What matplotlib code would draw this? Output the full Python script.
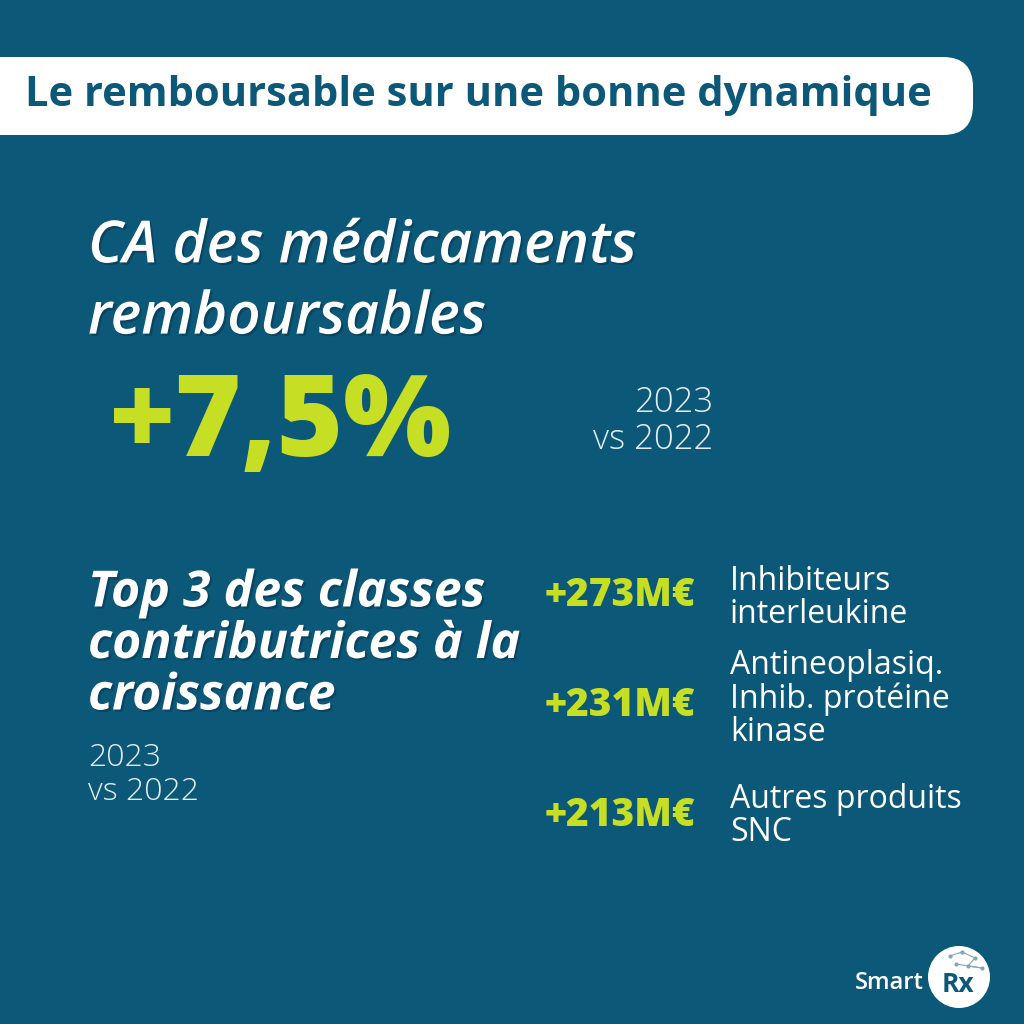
#!/usr/bin/env python
from matplotlib import pyplot as plt
from matplotlib.patches import FancyBboxPatch, Circle
import matplotlib.patheffects as pe

# --- contenu ---
titre = "Le remboursable sur une bonne dynamique"
titre_ca = "CA des médicaments\nremboursables"
evolution_ca = "+7,5%"
periode = "2023\nvs 2022"
titre_top = "Top 3 des classes\ncontributrices à la\ncroissance"
hausses_meur = [273, 231, 213]
classes = ["Inhibiteurs\ninterleukine",
           "Antineoplasiq.\nInhib. protéine\nkinase",
           "Autres produits\nSNC"]

BG = "#0c5878"
LIME = "#c6df24"
WHITE = "#ffffff"

plt.rcParams['font.family'] = ['Open Sans', 'DejaVu Sans']

fig = plt.figure(figsize=(10.24, 10.24), dpi=100, facecolor=BG)
ax = fig.add_axes([0, 0, 1, 1])
ax.set_xlim(0, 1024)
ax.set_ylim(1024, 0)
ax.axis('off')
ax.set_facecolor(BG)

# bandeau titre
ax.add_patch(FancyBboxPatch((-60, 57), 1033, 78, boxstyle="round,pad=0,rounding_size=30",
                            facecolor=WHITE, edgecolor='none'))
ax.text(25, 96, titre, color=BG, fontsize=30, fontweight='bold', va='center', ha='left')

ombre = [pe.withSimplePatchShadow(offset=(1.5, -1.5), shadow_rgbFace='#08324a', alpha=0.5)]

ax.text(88, 283, titre_ca, color=WHITE, fontsize=42, fontweight='semibold', fontstyle='italic',
        va='center', ha='left', linespacing=1.3, path_effects=ombre)
ax.text(110, 427, evolution_ca, color=LIME, fontsize=82, fontweight='heavy',
        va='center', ha='left')
ax.text(713, 421, periode, color='#e4edf2', fontsize=25, fontweight='light',
        va='center', ha='right', linespacing=1.1)

ax.text(88, 645, titre_top, color=WHITE, fontsize=36, fontweight='bold', fontstyle='italic',
        va='center', ha='left', linespacing=1.04, path_effects=ombre)
ax.text(88, 775, periode, color='#e4edf2', fontsize=23, fontweight='light',
        va='center', ha='left', linespacing=1.05)

y_lignes = [595, 705, 816]
y_labels = [598, 699, 816]
for v, lab, y, yl in zip(hausses_meur, classes, y_lignes, y_labels):
    ax.text(545, y, f"+{v}M€", color=LIME, fontsize=28, fontweight='heavy', va='center', ha='left')
    ax.text(730, yl, lab, color=WHITE, fontsize=23, va='center', ha='left', linespacing=1.02)

# logo
ax.text(855, 983, "Smart", color=WHITE, fontsize=17, fontweight='semibold', va='center', ha='left')
ax.add_patch(Circle((959, 977), 31, facecolor=WHITE, edgecolor='none'))
ax.text(958, 985, "Rx", color=BG, fontsize=19, fontweight='bold', va='center', ha='center')
pts = [(950, 956), (962, 952), (975, 958), (968, 966), (982, 968), (956, 964)]
for i in range(len(pts) - 1):
    ax.plot([pts[i][0], pts[i + 1][0]], [pts[i][1], pts[i + 1][1]], color='#7fa6ba', lw=0.8)
ax.scatter([p[0] for p in pts], [p[1] for p in pts], s=4, color='#7fa6ba', zorder=3)

fig.savefig("out.png", dpi=100, facecolor=BG)
